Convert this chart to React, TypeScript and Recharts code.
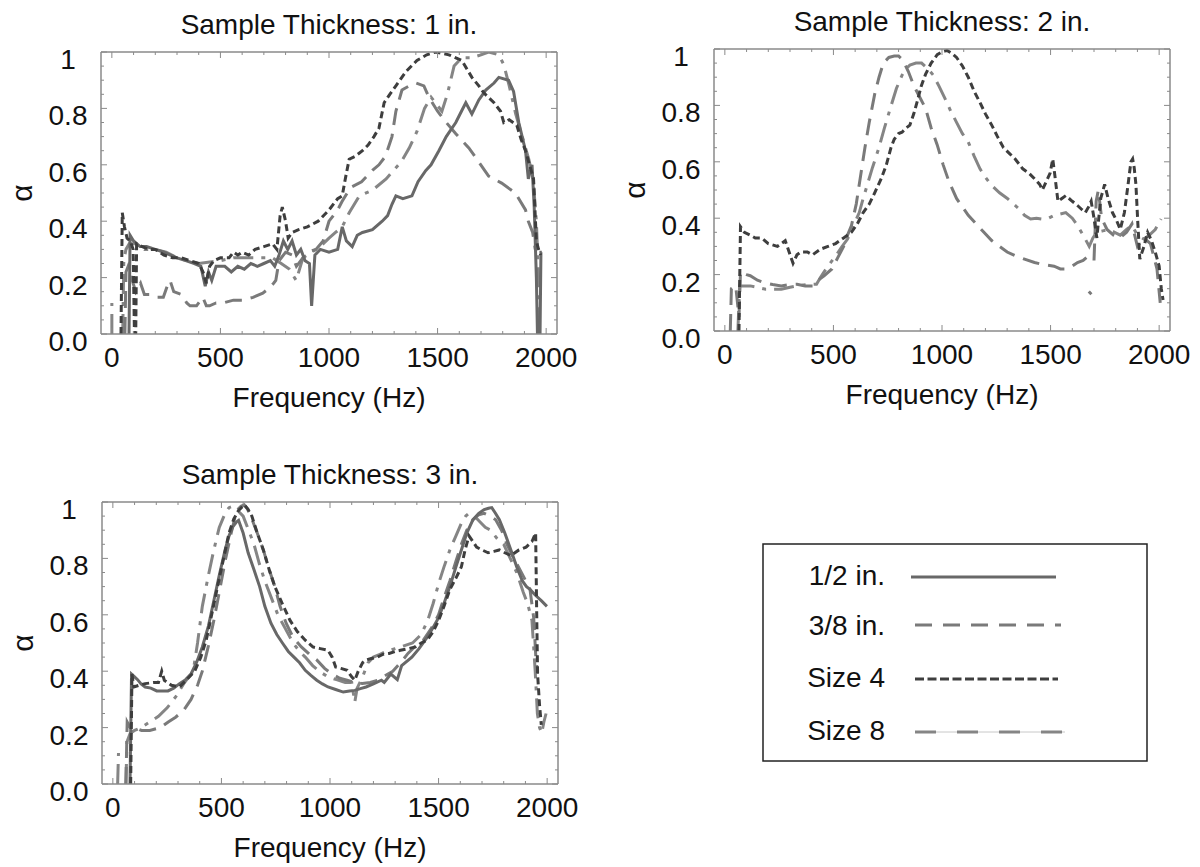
import { LineChart, Line, XAxis, YAxis } from 'recharts';

type Pt = [number, number | null];

// axis ticks (Hz / absorption coefficient)
const X_TICKS = [0, 100, 200, 300, 400, 500, 600, 700, 800, 900, 1000, 1100, 1200, 1300, 1400, 1500, 1600, 1700, 1800, 1900, 2000];
const X_MAJOR = [0, 500, 1000, 1500, 2000];
const X_LABELS = ['0', '500', '1000', '1500', '2000'];
const Y_TICKS = [0, 0.05, 0.1, 0.15, 0.2, 0.25, 0.3, 0.35, 0.4, 0.45, 0.5, 0.55, 0.6, 0.65, 0.7, 0.75, 0.8, 0.85, 0.9, 0.95, 1];
const Y_MAJOR = [0, 0.2, 0.4, 0.6, 0.8, 1];
const Y_LABELS = ['0.0', '0.2', '0.4', '0.6', '0.8', '1'];

const TITLES = ['Sample Thickness: 1 in.', 'Sample Thickness: 2 in.', 'Sample Thickness: 3 in.'];
const SERIES_NAMES = ['1/2 in.', '3/8 in.', 'Size 4', 'Size 8'];

// ---- Sample thickness 1 in.
const T1_HALF: Pt[] = [
  [79, 0], [84, 0.35], [100, 0.33], [130, 0.31], [160, 0.31], [200, 0.3], [240, 0.29], [270, 0.28], [300, 0.27],
  [340, 0.26], [380, 0.25], [410, 0.24], [430, 0.17], [445, 0.22], [460, 0.19], [480, 0.24], [520, 0.24], [550, 0.22],
  [580, 0.24], [610, 0.23], [640, 0.25], [670, 0.24], [700, 0.25], [730, 0.26], [750, 0.24], [770, 0.28], [790, 0.33],
  [810, 0.3], [830, 0.33], [850, 0.28], [870, 0.3], [890, 0.26], [910, 0.25], [920, 0.1], [935, 0.28], [960, 0.3],
  [1000, 0.29], [1040, 0.3], [1061, 0.38], [1080, 0.33], [1107, 0.31], [1130, 0.35], [1154, 0.36], [1200, 0.37],
  [1245, 0.4], [1270, 0.42], [1290, 0.46], [1308, 0.49], [1340, 0.48], [1382, 0.49], [1410, 0.54], [1446, 0.58],
  [1470, 0.6], [1506, 0.65], [1540, 0.7], [1584, 0.75], [1610, 0.79], [1630, 0.82], [1658, 0.78], [1690, 0.83],
  [1722, 0.865], [1760, 0.89], [1782, 0.91], [1827, 0.9], [1850, 0.86], [1874, 0.75], [1905, 0.65], [1918, 0.55],
  [1935, 0.6], [1945, 0.45], [1955, 0.2], [1960, 0], [1972, 0], [1976, 0.29], [1980, 0.29],
];
const T1_38: Pt[] = [
  [60, 0], [65, 0.22], [75, 0.24], [90, 0.2], [110, 0.15], [132, 0.18], [150, 0.14], [180, 0.14], [210, 0.13],
  [237, 0.13], [255, 0.17], [268, 0.19], [285, 0.15], [320, 0.14], [345, 0.11], [360, 0.1], [390, 0.1], [419, 0.13],
  [435, 0.1], [450, 0.1], [480, 0.11], [512, 0.11], [560, 0.12], [603, 0.12], [650, 0.13], [695, 0.145], [720, 0.16],
  [745, 0.18], [755, 0.19], [770, 0.26], [800, 0.29], [830, 0.28], [850, 0.24], [870, 0.26], [900, 0.29], [940, 0.3],
  [973, 0.33], [1000, 0.4], [1040, 0.44], [1060, 0.47], [1100, 0.52], [1150, 0.54], [1200, 0.58], [1230, 0.6],
  [1260, 0.63], [1290, 0.7], [1308, 0.79], [1336, 0.865], [1370, 0.88], [1400, 0.89], [1437, 0.88], [1460, 0.84],
  [1500, 0.79], [1540, 0.75], [1584, 0.71], [1644, 0.66], [1690, 0.61], [1735, 0.56], [1795, 0.535], [1858, 0.5],
  [1905, 0.44], [1918, 0.4], [1938, 0.36], [1950, 0.3],
];
const T1_SIZE4: Pt[] = [
  [42, 0], [48, 0.43], [58, 0.38], [70, 0.34], [85, 0.33], [98, 0.3], [104, 0], [110, 0], [114, 0.32], [140, 0.31],
  [170, 0.3], [200, 0.3], [240, 0.28], [280, 0.27], [320, 0.27], [360, 0.26], [400, 0.25], [420, 0.22], [435, 0.18],
  [450, 0.24], [470, 0.26], [500, 0.27], [540, 0.27], [560, 0.29], [580, 0.28], [600, 0.29], [630, 0.28], [660, 0.3],
  [700, 0.31], [740, 0.32], [760, 0.3], [775, 0.42], [785, 0.45], [800, 0.4], [812, 0.34], [830, 0.36], [860, 0.37],
  [900, 0.38], [950, 0.4], [1000, 0.44], [1040, 0.48], [1061, 0.49], [1075, 0.55], [1093, 0.62], [1120, 0.63],
  [1154, 0.65], [1180, 0.67], [1207, 0.7], [1230, 0.73], [1254, 0.82], [1280, 0.85], [1308, 0.88], [1354, 0.93],
  [1405, 0.97], [1450, 0.99], [1492, 1.0], [1552, 0.99], [1612, 0.97], [1658, 0.91], [1690, 0.88], [1713, 0.855],
  [1760, 0.82], [1790, 0.79], [1805, 0.75], [1830, 0.76], [1865, 0.74], [1885, 0.69], [1905, 0.65], [1942, 0.55],
  [1955, 0.33], [1965, 0.3], [1975, 0.28],
];
const T1_SIZE8: Pt[] = [
  [0, 0], [0, 0.11], [2, null], [50, 0], [55, 0.26], [65, 0.3], [80, 0.32], [110, 0.32], [150, 0.3], [200, 0.3],
  [250, 0.29], [300, 0.27], [350, 0.26], [400, 0.25], [500, 0.26], [560, 0.27], [620, 0.27], [680, 0.27], [740, 0.27],
  [780, 0.25], [817, 0.23], [849, 0.19], [880, 0.27], [920, 0.29], [960, 0.31], [1000, 0.34], [1030, 0.36],
  [1061, 0.38], [1093, 0.43], [1140, 0.49], [1200, 0.51], [1263, 0.55], [1332, 0.61], [1370, 0.66], [1406, 0.72],
  [1440, 0.8], [1470, 0.84], [1490, 0.82], [1520, 0.79], [1545, 0.85], [1576, 0.95], [1612, 0.98], [1658, 0.98],
  [1700, 0.99], [1735, 1.0], [1782, 0.99], [1805, 0.955], [1830, 0.88], [1860, 0.78], [1890, 0.7], [1920, 0.62],
  [1940, 0.55], [1955, 0.4], [1965, 0.2], [1970, 0],
];

// ---- Sample thickness 2 in.
const T2_38: Pt[] = [
  [25, 0], [30, 0.15], [50, 0.16], [65, 0.05], [72, 0.21], [100, 0.2], [117, 0.196], [150, 0.18], [188, 0.17],
  [220, 0.165], [260, 0.16], [300, 0.165], [332, 0.166], [370, 0.16], [404, 0.16], [430, 0.18], [457, 0.196],
  [493, 0.22], [520, 0.26], [547, 0.3], [565, 0.34], [583, 0.374], [605, 0.45], [625, 0.55], [645, 0.65], [665, 0.74],
  [690, 0.84], [710, 0.9], [730, 0.95], [755, 0.97], [780, 0.975], [800, 0.975], [820, 0.96], [845, 0.92], [870, 0.87],
  [897, 0.83], [924, 0.79], [950, 0.72], [978, 0.66], [1005, 0.59], [1032, 0.53], [1067, 0.47], [1094, 0.44],
  [1121, 0.41], [1157, 0.38], [1193, 0.35], [1230, 0.32], [1265, 0.3], [1300, 0.28], [1337, 0.267], [1380, 0.255],
  [1426, 0.243], [1470, 0.235], [1516, 0.23], [1545, 0.22], [1570, 0.22], [1600, 0.23], [1624, 0.243], [1650, 0.25],
  [1665, 0.26], [1672, null], [1676, 0.14], [1688, 0.13], [1692, null], [1700, 0.25], [1710, 0.46], [1720, 0.5],
  [1735, 0.4], [1760, 0.36], [1790, 0.34], [1820, 0.33], [1850, 0.35], [1875, 0.38], [1900, 0.3], [1930, 0.33],
  [1960, 0.31], [1990, 0.22], [2005, 0.1],
];
const T2_SIZE4: Pt[] = [
  [65, 0], [72, 0.37], [90, 0.35], [117, 0.34], [140, 0.33], [170, 0.33], [200, 0.31], [242, 0.3], [278, 0.32],
  [296, 0.28], [314, 0.24], [332, 0.27], [350, 0.28], [380, 0.28], [404, 0.27], [440, 0.29], [475, 0.3], [510, 0.31],
  [547, 0.33], [583, 0.35], [610, 0.38], [637, 0.42], [665, 0.45], [690, 0.49], [720, 0.54], [744, 0.59], [765, 0.65],
  [780, 0.68], [800, 0.7], [816, 0.705], [835, 0.72], [852, 0.73], [870, 0.77], [888, 0.82], [905, 0.87], [924, 0.91],
  [950, 0.95], [978, 0.98], [1000, 0.99], [1023, 0.995], [1045, 0.985], [1067, 0.97], [1094, 0.94], [1121, 0.9],
  [1148, 0.85], [1175, 0.81], [1200, 0.77], [1229, 0.73], [1255, 0.69], [1283, 0.65], [1310, 0.63], [1337, 0.61],
  [1372, 0.575], [1400, 0.56], [1426, 0.54], [1450, 0.52], [1462, 0.5], [1480, 0.53], [1498, 0.56], [1510, 0.61],
  [1520, 0.55], [1534, 0.46], [1552, 0.47], [1570, 0.48], [1600, 0.46], [1624, 0.445], [1645, 0.43], [1660, 0.42],
  [1675, 0.44], [1687, 0.46], [1700, 0.4], [1713, 0.33], [1722, 0.4], [1731, 0.47], [1742, 0.5], [1749, 0.52],
  [1765, 0.47], [1785, 0.42], [1805, 0.39], [1821, 0.36], [1840, 0.42], [1857, 0.52], [1870, 0.6], [1878, 0.61],
  [1885, 0.58], [1893, 0.52], [1902, 0.38], [1911, 0.255], [1930, 0.3], [1947, 0.35], [1965, 0.32], [1982, 0.28],
  [2000, 0.23], [2010, 0.15], [2018, 0.11],
];
const T2_SIZE8: Pt[] = [
  [60, 0], [68, 0.16], [117, 0.16], [150, 0.155], [188, 0.148], [220, 0.148], [260, 0.148], [300, 0.155], [332, 0.16],
  [380, 0.165], [422, 0.166], [440, 0.19], [457, 0.21], [485, 0.24], [511, 0.267], [540, 0.3], [565, 0.326],
  [590, 0.37], [619, 0.42], [637, 0.47], [655, 0.516], [680, 0.58], [708, 0.646], [735, 0.72], [762, 0.79],
  [790, 0.86], [816, 0.907], [835, 0.93], [852, 0.943], [880, 0.95], [906, 0.95], [935, 0.93], [960, 0.907],
  [985, 0.87], [1014, 0.824], [1040, 0.78], [1067, 0.74], [1094, 0.7], [1121, 0.67], [1148, 0.62], [1175, 0.575],
  [1200, 0.545], [1229, 0.516], [1265, 0.49], [1301, 0.47], [1330, 0.45], [1355, 0.433], [1380, 0.41], [1408, 0.397],
  [1435, 0.4], [1462, 0.397], [1490, 0.4], [1516, 0.41], [1545, 0.415], [1570, 0.42], [1600, 0.4], [1624, 0.374],
  [1650, 0.34], [1678, 0.3], [1695, 0.33], [1713, 0.35], [1740, 0.355], [1767, 0.36], [1795, 0.35], [1821, 0.34],
  [1850, 0.36], [1875, 0.374], [1900, 0.34], [1929, 0.326], [1955, 0.34], [1982, 0.36], [2009, 0.397],
];

// ---- Sample thickness 3 in.
const T3_HALF: Pt[] = [
  [79, 0], [86, 0.39], [100, 0.38], [114, 0.37], [130, 0.355], [149, 0.344], [175, 0.34], [202, 0.33], [230, 0.33],
  [254, 0.33], [280, 0.34], [307, 0.356], [335, 0.37], [360, 0.39], [385, 0.43], [412, 0.486], [440, 0.56], [465, 0.65],
  [490, 0.74], [517, 0.83], [535, 0.88], [553, 0.913], [570, 0.93], [579, 0.935], [600, 0.89], [623, 0.82], [650, 0.76],
  [676, 0.7], [700, 0.63], [728, 0.57], [755, 0.53], [781, 0.5], [808, 0.47], [834, 0.45], [860, 0.43], [886, 0.403],
  [912, 0.385], [939, 0.368], [965, 0.355], [991, 0.344], [1026, 0.335], [1061, 0.326], [1090, 0.33], [1114, 0.332],
  [1140, 0.338], [1166, 0.344], [1200, 0.355], [1237, 0.368], [1250, 0.36], [1280, 0.39], [1310, 0.37], [1330, 0.42],
  [1377, 0.45], [1410, 0.48], [1447, 0.52], [1475, 0.555], [1500, 0.59], [1525, 0.64], [1552, 0.7], [1580, 0.77],
  [1605, 0.83], [1630, 0.89], [1658, 0.937], [1685, 0.96], [1710, 0.973], [1730, 0.978], [1745, 0.98], [1762, 0.96],
  [1780, 0.937], [1805, 0.89], [1833, 0.83], [1860, 0.77], [1886, 0.72], [1905, 0.7], [1921, 0.69], [1945, 0.67],
  [1973, 0.65], [1999, 0.63],
];
const T3_38: Pt[] = [
  [60, 0], [66, 0.22], [80, 0.2], [100, 0.2], [132, 0.19], [170, 0.19], [219, 0.2], [255, 0.22], [289, 0.237],
  [325, 0.26], [360, 0.3], [390, 0.35], [412, 0.4], [440, 0.49], [465, 0.58], [490, 0.68], [517, 0.79], [545, 0.89],
  [570, 0.97], [590, 0.985], [605, 0.99], [620, 0.975], [640, 0.94], [665, 0.89], [693, 0.83], [720, 0.76], [746, 0.7],
  [770, 0.63], [798, 0.57], [830, 0.52], [868, 0.486], [905, 0.46], [939, 0.44], [975, 0.41], [1009, 0.39],
  [1045, 0.375], [1079, 0.368], [1115, 0.36], [1149, 0.356], [1185, 0.36], [1219, 0.368], [1255, 0.385], [1289, 0.4],
  [1325, 0.43], [1359, 0.463], [1395, 0.49], [1430, 0.51], [1465, 0.55], [1500, 0.6], [1525, 0.66], [1552, 0.72],
  [1580, 0.79], [1605, 0.85], [1630, 0.9], [1658, 0.937], [1685, 0.955], [1710, 0.96], [1737, 0.95], [1763, 0.937],
  [1790, 0.9], [1815, 0.85], [1840, 0.81], [1868, 0.77], [1895, 0.73], [1921, 0.69], [1938, 0.59], [1948, 0.45],
  [1956, 0.39],
];
const T3_SIZE4: Pt[] = [
  [82, 0], [88, 0.39], [96, 0.344], [120, 0.35], [149, 0.356], [190, 0.36], [210, 0.36], [225, 0.4], [237, 0.368],
  [270, 0.35], [307, 0.344], [340, 0.37], [377, 0.4], [405, 0.45], [430, 0.51], [455, 0.6], [482, 0.7], [510, 0.8],
  [535, 0.89], [557, 0.94], [579, 0.97], [605, 0.99], [622, 0.975], [640, 0.95], [665, 0.89], [693, 0.83], [720, 0.76],
  [746, 0.7], [780, 0.64], [816, 0.58], [850, 0.54], [886, 0.51], [921, 0.486], [955, 0.48], [991, 0.474],
  [1010, 0.45], [1026, 0.415], [1050, 0.41], [1079, 0.403], [1100, 0.38], [1114, 0.368], [1130, 0.4], [1150, 0.43],
  [1166, 0.44], [1190, 0.445], [1219, 0.45], [1245, 0.46], [1272, 0.463], [1300, 0.47], [1324, 0.474], [1360, 0.48],
  [1394, 0.486], [1420, 0.5], [1447, 0.51], [1475, 0.54], [1500, 0.58], [1525, 0.63], [1552, 0.69], [1580, 0.73],
  [1605, 0.77], [1622, 0.83], [1640, 0.88], [1658, 0.86], [1675, 0.84], [1700, 0.83], [1728, 0.82], [1755, 0.825],
  [1780, 0.83], [1805, 0.82], [1833, 0.81], [1870, 0.83], [1903, 0.84], [1930, 0.86], [1947, 0.89], [1952, 0.6],
  [1956, 0.39], [1965, 0.28], [1973, 0.21],
];
const T3_SIZE8: Pt[] = [
  [22, 0], [26, 0.11], [28, null], [60, 0], [65, 0.15], [80, 0.18], [100, 0.19], [130, 0.2], [170, 0.22], [210, 0.24],
  [250, 0.27], [290, 0.31], [330, 0.36], [370, 0.4], [390, 0.5], [412, 0.63], [440, 0.74], [465, 0.83], [490, 0.91],
  [517, 0.96], [535, 0.98], [553, 0.985], [575, 0.97], [600, 0.95], [625, 0.9], [650, 0.85], [675, 0.78], [700, 0.72],
  [730, 0.66], [760, 0.6], [795, 0.55], [830, 0.5], [860, 0.47], [886, 0.45], [920, 0.42], [950, 0.4], [990, 0.38],
  [1030, 0.37], [1070, 0.36], [1100, 0.36], [1114, 0.29], [1125, 0.34], [1150, 0.38], [1175, 0.43], [1200, 0.45],
  [1230, 0.46], [1260, 0.47], [1300, 0.48], [1340, 0.49], [1380, 0.5], [1420, 0.53], [1450, 0.58], [1475, 0.64],
  [1500, 0.71], [1525, 0.77], [1552, 0.83], [1580, 0.88], [1605, 0.925], [1625, 0.95], [1640, 0.96], [1665, 0.95],
  [1690, 0.93], [1715, 0.91], [1740, 0.9], [1770, 0.87], [1800, 0.85], [1830, 0.8], [1860, 0.75], [1890, 0.68],
  [1910, 0.64], [1930, 0.58], [1945, 0.4], [1955, 0.25], [1965, 0.2], [1975, 0.18], [1985, 0.22], [1995, 0.25],
];

const AXIS_COLOR = '#8a8a8a';
const FONT = '"Liberation Sans", Arial, Helvetica, sans-serif';
const PLOT_W = 456;
const PLOT_H = 282;

// line styles, in series order: 1/2 in., 3/8 in., Size 4, Size 8
const LINE_STYLES = [
  { stroke: '#686868', dash: undefined as string | undefined },
  { stroke: '#7a7a7a', dash: '17 9' },
  { stroke: '#3e3e3e', dash: '7 4' },
  { stroke: '#858585', dash: '20 8 4 8' },
];

const PANELS = [
  { left: 101, top: 52, title: TITLES[0], series: [null, T1_38, T1_HALF, T1_SIZE4, T1_SIZE8] },
  { left: 714, top: 49, title: TITLES[1], series: [null, T2_38, null, T2_SIZE4, T2_SIZE8] },
  { left: 102, top: 502, title: TITLES[2], series: [null, T3_38, T3_HALF, T3_SIZE4, T3_SIZE8] },
];

function majorIndex(v: number, majors: number[]) {
  return majors.findIndex((m) => Math.abs(m - v) < 1e-6);
}

function BottomTick(props: any) {
  const { x, y, payload } = props;
  const i = majorIndex(payload.value, X_MAJOR);
  const len = i >= 0 ? 6 : 3;
  return (
    <g>
      <line x1={x} y1={y} x2={x} y2={y - len} stroke={AXIS_COLOR} strokeWidth={1} />
      {i >= 0 && (
        <text x={x} y={y + 33} textAnchor="middle" fontSize={28} fontFamily={FONT} fill="#111">
          {X_LABELS[i]}
        </text>
      )}
    </g>
  );
}

function TopTick(props: any) {
  const { x, y, payload } = props;
  const len = majorIndex(payload.value, X_MAJOR) >= 0 ? 6 : 3;
  return <line x1={x} y1={y} x2={x} y2={y + len} stroke={AXIS_COLOR} strokeWidth={1} />;
}

function LeftTick(props: any) {
  const { x, y, payload } = props;
  const i = majorIndex(payload.value, Y_MAJOR);
  const len = i >= 0 ? 6 : 3;
  return (
    <g>
      <line x1={x} y1={y} x2={x + len} y2={y} stroke={AXIS_COLOR} strokeWidth={1} />
      {i >= 0 && (
        <text x={x - 33} y={y + 17} textAnchor="middle" fontSize={28} fontFamily={FONT} fill="#111">
          {Y_LABELS[i]}
        </text>
      )}
    </g>
  );
}

function RightTick(props: any) {
  const { x, y, payload } = props;
  const len = majorIndex(payload.value, Y_MAJOR) >= 0 ? 6 : 3;
  return <line x1={x} y1={y} x2={x - len} y2={y} stroke={AXIS_COLOR} strokeWidth={1} />;
}

function toData(points: Pt[]) {
  return points.map(([x, y]) => ({ x, y }));
}

// draw order: Size 8, 3/8 in., 1/2 in., Size 4 on top
const DRAW_ORDER = [3, 1, 0, 2];

function Panel({ left, top, series }: { left: number; top: number; series: (Pt[] | null)[] }) {
  const bySeries = [series[2], series[1], series[3], series[4]];
  const axisLine = { stroke: AXIS_COLOR, strokeWidth: 1.5 };
  return (
    <div style={{ position: 'absolute', left: left - 100, top: top - 55 }}>
      <LineChart width={PLOT_W + 140} height={PLOT_H + 145} margin={{ top: 45, right: 30, bottom: 60, left: 40 }}>
        <XAxis
          type="number"
          dataKey="x"
          domain={[-50, 2050]}
          allowDataOverflow
          ticks={X_TICKS}
          interval={0}
          tick={(p: any) => <BottomTick {...p} />}
          tickLine={false}
          tickSize={0}
          tickMargin={0}
          axisLine={axisLine}
          height={30}
        />
        <XAxis
          xAxisId="top"
          orientation="top"
          type="number"
          dataKey="x"
          domain={[-50, 2050]}
          allowDataOverflow
          ticks={X_TICKS}
          interval={0}
          tick={(p: any) => <TopTick {...p} />}
          tickLine={false}
          tickSize={0}
          tickMargin={0}
          axisLine={axisLine}
          height={10}
        />
        <YAxis
          type="number"
          domain={[0, 1]}
          allowDataOverflow
          ticks={Y_TICKS}
          interval={0}
          tick={(p: any) => <LeftTick {...p} />}
          tickLine={false}
          tickSize={0}
          tickMargin={0}
          axisLine={axisLine}
          width={60}
        />
        <YAxis
          yAxisId="right"
          orientation="right"
          type="number"
          domain={[0, 1]}
          allowDataOverflow
          ticks={Y_TICKS}
          interval={0}
          tick={(p: any) => <RightTick {...p} />}
          tickLine={false}
          tickSize={0}
          tickMargin={0}
          axisLine={axisLine}
          width={10}
        />
        {DRAW_ORDER.map((si) => {
          const pts = bySeries[si];
          if (!pts) return null;
          const st = LINE_STYLES[si];
          return (
            <Line
              key={SERIES_NAMES[si]}
              name={SERIES_NAMES[si]}
              data={toData(pts)}
              dataKey="y"
              type="linear"
              stroke={st.stroke}
              strokeWidth={3}
              strokeDasharray={st.dash}
              dot={false}
              activeDot={false}
              connectNulls={false}
              isAnimationActive={false}
            />
          );
        })}
      </LineChart>
    </div>
  );
}

function LegendBox() {
  const rows = [
    { y: 585, ly: 577, x1: 911, x2: 1056 },
    { y: 635, ly: 625, x1: 915, x2: 1061 },
    { y: 687, ly: 679, x1: 915, x2: 1058 },
    { y: 740, ly: 732, x1: 915, x2: 1065 },
  ];
  return (
    <g>
      <rect x={763} y={544} width={384} height={217} fill="none" stroke="#222" strokeWidth={1.5} />
      {rows.map((r, i) => (
        <g key={SERIES_NAMES[i]}>
          <text x={885} y={r.y} textAnchor="end" fontSize={28} fontFamily={FONT} fill="#111">
            {SERIES_NAMES[i]}
          </text>
          {i === 3 && <line x1={r.x1} y1={r.ly} x2={r.x2} y2={r.ly} stroke="#c8c8c8" strokeWidth={1} />}
          <line
            x1={r.x1}
            y1={r.ly}
            x2={r.x2}
            y2={r.ly}
            stroke={LINE_STYLES[i].stroke}
            strokeWidth={3}
            strokeDasharray={i === 3 ? '21 21' : i === 1 ? '17 11' : i === 2 ? '9 3.5' : undefined}
          />
        </g>
      ))}
    </g>
  );
}

export default function App() {
  return (
    <div style={{ position: 'absolute', left: 0, top: 0, width: 1200, height: 867, background: '#fff', fontFamily: FONT }}>
      {PANELS.map((p) => (
        <Panel key={p.title} left={p.left} top={p.top} series={p.series} />
      ))}
      <svg width={1200} height={867} style={{ position: 'absolute', left: 0, top: 0, pointerEvents: 'none' }}>
        {PANELS.map((p) => (
          <g key={p.title}>
            <text x={p.left + PLOT_W / 2} y={p.top - 18} textAnchor="middle" fontSize={28} fontFamily={FONT} fill="#111">
              {p.title}
            </text>
            <text x={p.left + PLOT_W / 2} y={p.top + PLOT_H + 73} textAnchor="middle" fontSize={28} fontFamily={FONT} fill="#111">
              Frequency (Hz)
            </text>
            <text
              x={p.left - 80}
              y={p.top + PLOT_H / 2}
              textAnchor="middle"
              dominantBaseline="central"
              fontSize={30}
              fontFamily={FONT}
              fill="#111"
              transform={`rotate(-90 ${p.left - 80} ${p.top + PLOT_H / 2})`}
            >
              α
            </text>
          </g>
        ))}
        <LegendBox />
      </svg>
    </div>
  );
}
